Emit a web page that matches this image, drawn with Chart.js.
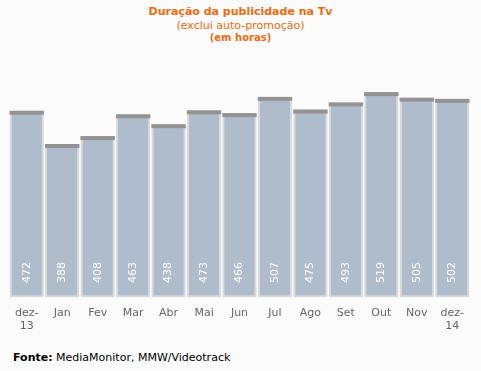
<!DOCTYPE html>
<html lang="pt">
<head>
  <meta charset="UTF-8">
  <title>Duração da publicidade na Tv</title>
  <script src="https://cdn.jsdelivr.net/npm/chart.js"></script>
  <style>
    body {
      margin: 0;
      width: 481px;
      height: 371px;
      background: #fbfbfb;
      font-family: "DejaVu Sans", Verdana, sans-serif;
      position: relative;
      overflow: hidden;
    }
    .titulo {
      position: absolute;
      left: 0;
      width: 481px;
      text-align: center;
      color: #f26a10;
      font-size: 11px;
    }
    #wrap {
      position: absolute;
      left: 0;
      top: 45px;
      width: 481px;
      height: 289px;
    }
    .fonte {
      position: absolute;
      left: 13px;
      top: 351px;
      font-size: 11px;
      color: #000;
    }
  </style>
</head>
<body>
  <div class="titulo" style="top:5px;font-weight:bold;">Duração da publicidade na Tv</div>
  <div class="titulo" style="top:19px;">(exclui auto-promoção)</div>
  <div class="titulo" style="top:32px;font-weight:bold;font-size:10px;">(em horas)</div>
  <div id="wrap"><canvas id="chart"></canvas></div>
  <div class="fonte"><b>Fonte:</b> MediaMonitor, MMW/Videotrack</div>

  <script>
    // dados
    const meses = [['dez-', '13'], 'Jan', 'Fev', 'Mar', 'Abr', 'Mai', 'Jun', 'Jul', 'Ago', 'Set', 'Out', 'Nov', ['dez-', '14']];
    const horas = [472, 388, 408, 463, 438, 473, 466, 507, 475, 493, 519, 505, 502];

    // tampa escura no topo de cada barra + valores na base
    const barExtras = {
      id: 'barExtras',
      afterDatasetsDraw(chart) {
        const ctx = chart.ctx;
        const meta = chart.getDatasetMeta(0);
        ctx.save();
        meta.data.forEach((bar, i) => {
          const w = bar.width;
          ctx.fillStyle = '#939393';
          ctx.fillRect(bar.x - w / 2, bar.y, w, 4);
          ctx.translate(bar.x, bar.base - 25);
          ctx.rotate(-Math.PI / 2);
          ctx.fillStyle = '#ffffff';
          ctx.font = '11px "DejaVu Sans"';
          ctx.textAlign = 'center';
          ctx.textBaseline = 'middle';
          ctx.fillText(String(horas[i]), 0, 0);
          ctx.setTransform(1, 0, 0, 1, 0, 0);
        });
        ctx.restore();
      }
    };

    new Chart(document.getElementById('chart'), {
      type: 'bar',
      data: {
        labels: meses,
        datasets: [{
          data: horas,
          backgroundColor: '#afbccc',
          borderColor: '#dadada',
          borderWidth: 2,
          borderSkipped: false,
          barPercentage: 0.97,
          categoryPercentage: 1
        }]
      },
      options: {
        responsive: true,
        maintainAspectRatio: false,
        animation: false,
        layout: { padding: { left: 9, right: 11, top: 0, bottom: 0 } },
        plugins: {
          legend: { display: false },
          tooltip: { enabled: false }
        },
        scales: {
          x: {
            grid: { display: false },
            border: { display: false },
            ticks: {
              color: '#666666',
              font: { family: 'DejaVu Sans', size: 11 },
              maxRotation: 0,
              padding: 1
            }
          },
          y: {
            display: false,
            min: 0,
            max: 638
          }
        }
      },
      plugins: [barExtras]
    });
  </script>
</body>
</html>
